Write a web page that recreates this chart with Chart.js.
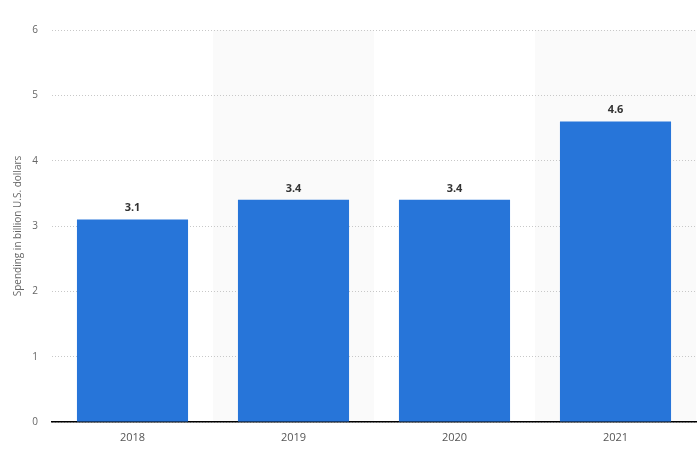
<!DOCTYPE html>
<html><head><meta charset="utf-8">
<script src="https://cdn.jsdelivr.net/npm/chart.js@4/dist/chart.umd.min.js"></script>
<style>html,body{margin:0;padding:0;background:#fff}canvas{display:block}</style>
</head><body>
<canvas id="c" width="698" height="461"></canvas>
<script>
const categories = ["2018", "2019", "2020", "2021"];
const spending = [3.1, 3.4, 3.4, 4.6];
const labels = ["3.1", "3.4", "3.4", "4.6"];
const yTitle = "Spending in billion U.S. dollars";

const bandPlugin = {
  id: 'bands',
  beforeDraw(chart) {
    const {ctx, chartArea, scales: {x}} = chart;
    const w = (chartArea.right - chartArea.left) / categories.length;
    ctx.save();
    ctx.fillStyle = '#fafafa';
    categories.forEach((c, i) => {
      if (i % 2 === 1) {
        const cx = x.getPixelForValue(i);
        ctx.fillRect(cx - w / 2, chartArea.top, w, chartArea.bottom - chartArea.top);
      }
    });
    ctx.restore();
  }
};
const labelPlugin = {
  id: 'vals',
  afterDatasetsDraw(chart) {
    const {ctx} = chart;
    const meta = chart.getDatasetMeta(0);
    ctx.save();
    ctx.font = 'bold 11px "Open Sans", sans-serif';
    ctx.fillStyle = '#333';
    ctx.textAlign = 'center';
    ctx.textBaseline = 'bottom';
    meta.data.forEach((b, i) => {
      ctx.fillText(labels[i], b.x, b.y - 6);
    });
    ctx.restore();
  }
};

new Chart(document.getElementById('c'), {
  type: 'bar',
  data: {
    labels: categories,
    datasets: [{
      data: spending,
      backgroundColor: '#2775d9',
      categoryPercentage: 0.69,
      barPercentage: 1.0
    }]
  },
  options: {
    responsive: false,
    animation: false,
    layout: {padding: {top: 30, right: 2, left: 0, bottom: 0}},
    plugins: {legend: {display: false}, tooltip: {enabled: false}},
    scales: {
      x: {
        grid: {display: false, drawTicks: false},
        border: {display: true, color: '#000', width: 1.5},
        ticks: {color: '#555', padding: 9, font: {family: '"Open Sans", sans-serif', size: 11}},
        afterFit(s) { s.height = 39; }
      },
      y: {
        min: 0, max: 6,
        ticks: {stepSize: 1, color: '#666', padding: 14, font: {family: '"Open Sans", sans-serif', size: 10}},
        grid: {color: '#c8c8c8', drawTicks: false, lineWidth: 1},
        border: {display: false, dash: [1, 2]},
        title: {display: true, text: yTitle, color: '#666', font: {family: '"Open Sans", sans-serif', size: 10}, padding: {top: 12, bottom: 0}},
        afterFit(s) { s.width = 52; }
      }
    }
  },
  plugins: [bandPlugin, labelPlugin]
});
</script>
</body></html>
